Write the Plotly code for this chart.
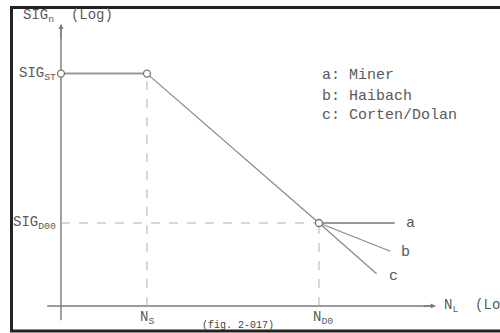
import plotly.graph_objects as go

# ---- data (log-scale units, schematic) ----
N_S = 1.0          # knee point N_S
N_D = 3.0          # endurance point N_D0
SIG_ST = 2.8       # static strength level
SIG_D = 1.0        # endurance limit level

curve_x = [0.0, N_S, N_D]
curve_y = [SIG_ST, SIG_ST, SIG_D]

a_x = [N_D, 3.88]; a_y = [SIG_D, 1.0]     # Miner
b_x = [N_D, 3.83]; b_y = [SIG_D, 0.66]    # Haibach
c_x = [N_D, 3.67]; c_y = [SIG_D, 0.39]    # Corten/Dolan

yaxis_x = [0.0, 0.0]; yaxis_y = [-0.17, 3.35]
xaxis_x = [-0.16, 4.33]; xaxis_y = [0.0, 0.0]

legend_lines = ["a: Miner", "b: Haibach", "c: Corten/Dolan"]
legend_y = [2.78, 2.53, 2.29]

FONT = "Liberation Mono"
TXT = "#5a5a5a"
LINE = "#8a8a8a"
AX = "#7a7a7a"

fig = go.Figure()

def line(x, y, color=LINE, width=1.3, dash="solid"):
    fig.add_trace(go.Scatter(x=x, y=y, mode="lines", hoverinfo="skip",
                             line=dict(color=color, width=width, dash=dash),
                             showlegend=False))

# axes
line(yaxis_x, yaxis_y, AX, 1.4)
line(xaxis_x, xaxis_y, AX, 1.4)

# dashed guides
line([0.0, N_D], [SIG_D, SIG_D], "#b0b0b0", 1.0, "dash")
line([N_S, N_S], [0.0, SIG_ST], "#b0b0b0", 1.0, "dash")
line([N_D, N_D], [0.0, SIG_D], "#b0b0b0", 1.0, "dash")

# curves
line(curve_x[:2], curve_y[:2], "#999999", 2.0)
line(curve_x[1:], curve_y[1:], LINE, 1.3)
line(a_x, a_y, "#999999", 2.0)
line(b_x, b_y, LINE, 1.3)
line(c_x, c_y, LINE, 1.3)

# open circles
fig.add_trace(go.Scatter(x=[0.0, N_S, N_D], y=[SIG_ST, SIG_ST, SIG_D], mode="markers",
                         hoverinfo="skip", showlegend=False,
                         marker=dict(symbol="circle", size=7, color="white",
                                     line=dict(color="#777777", width=1.3))))

ann = []
def txt(x, y, t, xa="left", size=14, color=TXT, ya="middle"):
    ann.append(dict(x=x, y=y, xref="x", yref="y", text=t, showarrow=False,
                    xanchor=xa, yanchor=ya,
                    font=dict(family=FONT, size=size, color=color)))

txt(-0.465, 3.50, "SIG<sub>n</sub>  (Log)")
txt(-0.03, SIG_ST, "SIG<sub>ST</sub>", xa="right")
txt(-0.03, SIG_D, "SIG<sub>D00</sub>", xa="right")
txt(N_S, -0.15, "N<sub>S</sub>", xa="center")
txt(N_D + 0.05, -0.15, "N<sub>D0</sub>", xa="center")
txt(2.06, -0.235, "(fig. 2-017)", xa="center", size=10, color="#444444")
for t, yy in zip(legend_lines, legend_y):
    txt(3.01, yy, t, size=15)
txt(3.99, 1.0, "a", size=15)
txt(3.93, 0.64, "b", size=15)
txt(3.79, 0.35, "c", size=15)
txt(4.43, 0.0, "N<sub>L</sub>  (Log)")

# arrowheads
ann.append(dict(x=4.36, y=0.0, ax=4.2, ay=0.0, xref="x", yref="y", axref="x", ayref="y",
                text="", showarrow=True, arrowhead=2, arrowsize=0.8, arrowwidth=1.3,
                arrowcolor=AX))
ann.append(dict(x=0.0, y=3.4, ax=0.0, ay=3.2, xref="x", yref="y", axref="x", ayref="y",
                text="", showarrow=True, arrowhead=2, arrowsize=0.8, arrowwidth=1.3,
                arrowcolor=AX))

fig.update_layout(
    width=500, height=333,
    margin=dict(l=0, r=0, t=0, b=0),
    paper_bgcolor="white", plot_bgcolor="white",
    xaxis=dict(range=[-0.709, 5.105], visible=False, fixedrange=True),
    yaxis=dict(range=[-0.325, 3.687], visible=False, fixedrange=True),
    annotations=ann,
    shapes=[dict(type="rect", xref="paper", yref="paper",
                 x0=11.5 / 500, x1=1.2, y0=1 - 331 / 333, y1=1 - 7.5 / 333,
                 line=dict(color="#222222", width=3))],
)

fig.write_html(
    "out.html",
    config={"displayModeBar": False},
    post_script="document.body.style.margin='0';document.body.style.overflow='hidden';",
)
